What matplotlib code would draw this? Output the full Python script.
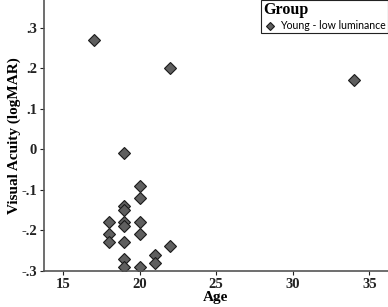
import matplotlib.pyplot as plt

age = [17, 22, 34, 19, 20, 20, 19, 19, 18, 19, 20, 19, 18, 20, 18, 19, 22, 21, 19, 21, 19, 20]
acuity = [0.27, 0.20, 0.17, -0.01, -0.09, -0.12, -0.14, -0.15, -0.18, -0.18, -0.18, -0.19,
          -0.21, -0.21, -0.23, -0.23, -0.24, -0.26, -0.27, -0.28, -0.29, -0.29]

xticks = [15, 20, 25, 30, 35]
yticks = [-0.3, -0.2, -0.1, 0, 0.1, 0.2, 0.3]
ytick_labels = ['-.3', '-.2', '-.1', '0', '.1', '.2', '.3']

serif = 'Liberation Serif'

fig = plt.figure(figsize=(3.88, 3.07), dpi=100)
ax = fig.add_axes([0.1134, 0.118, 0.886, 0.882])

ax.plot(age, acuity, linestyle='none', marker='D', markersize=5.8,
        markerfacecolor='#5f5f5f', markeredgecolor='#1a1a1a', markeredgewidth=0.8,
        label='Young - low luminance')

ax.set_xlim(13.76, 36.2)
ax.set_ylim(-0.3, 0.368)
ax.set_xticks(xticks)
ax.set_xticklabels([str(t) for t in xticks], fontfamily=serif, fontweight='bold', fontsize=10.5)
ax.set_yticks(yticks)
ax.set_yticklabels(ytick_labels, fontfamily=serif, fontweight='bold', fontsize=10.5)
ax.tick_params(direction='out', length=3, width=0.8, pad=2, colors='#222222')

for s in ['top', 'right']:
    ax.spines[s].set_visible(False)
for s in ['left', 'bottom']:
    ax.spines[s].set_color('#555555')
    ax.spines[s].set_linewidth(1.2)

ax.set_xlabel('Age', fontfamily=serif, fontweight='bold', fontsize=11, labelpad=0)
ax.set_ylabel('Visual Acuity (logMAR)', fontfamily=serif, fontweight='bold', fontsize=11, labelpad=0)

leg = ax.legend(loc='upper right', bbox_to_anchor=(1.0, 1.0), borderaxespad=0,
                title='Group', alignment='left', fancybox=False, framealpha=1,
                edgecolor='#222222', prop={'family': 'Lato', 'size': 7.6},
                markerscale=0.75, handletextpad=0.2, handlelength=1.4,
                borderpad=0.2, labelspacing=0.2)
leg.get_frame().set_linewidth(0.8)
leg.get_title().set_fontfamily(serif)
leg.get_title().set_fontweight('bold')
leg.get_title().set_fontsize(11.5)

fig.savefig('out.png', dpi=100)
